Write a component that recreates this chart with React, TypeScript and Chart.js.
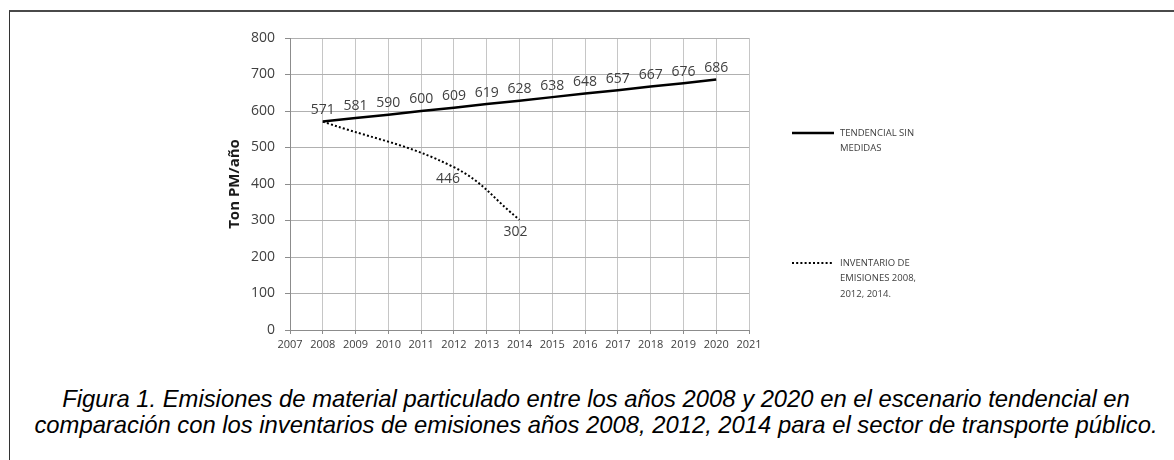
import React, { useEffect, useRef } from "react";
import { Chart, registerables } from "chart.js";

Chart.register(...registerables);

// ---- data ----
const years = [2008, 2009, 2010, 2011, 2012, 2013, 2014, 2015, 2016, 2017, 2018, 2019, 2020];
const tendencial = [571, 581, 590, 600, 609, 619, 628, 638, 648, 657, 667, 676, 686];
const inventarioYears = [2008, 2012, 2014];
const inventario = [571, 446, 302];
const seriesNames = [["TENDENCIAL SIN", "MEDIDAS"], ["INVENTARIO DE", "EMISIONES 2008,", "2012, 2014."]];
const xMin = 2007;
const xMax = 2021;
const yMin = 0;
const yMax = 800;
const yStep = 100;
const yTitle = "Ton PM/año";
const captionLines = [
  "Figura 1. Emisiones de material particulado entre los años 2008 y 2020 en el escenario tendencial en",
  "comparación con los inventarios de emisiones años 2008, 2012, 2014 para el sector de transporte público.",
];

const W = 1174;
const H = 370;
const PLOT_LEFT = 290;
const PLOT_RIGHT = 749;
const PLOT_TOP = 38;
const PLOT_BOTTOM = 330;
const Y_AXIS_W = 80;
const X_AXIS_H = 40;

const TEXT = "#404040";
const FONT = '"Open Sans", "DejaVu Sans", sans-serif';

const valueLabels = {
  id: "valueLabels",
  afterDatasetsDraw(chart: any) {
    const ctx = chart.ctx;
    ctx.save();
    ctx.font = `14px ${FONT}`;
    ctx.fillStyle = TEXT;
    ctx.textAlign = "center";
    ctx.textBaseline = "middle";
    // solid series: labels above each point
    const m0 = chart.getDatasetMeta(0);
    m0.data.forEach((pt: any, i: number) => {
      ctx.fillText(String(tendencial[i]), pt.x, pt.y - 11.5);
    });
    // dotted series: labels below (first point shared with solid series)
    const m1 = chart.getDatasetMeta(1);
    const offs = [null, [-6, 12], [-4, 12.5]];
    m1.data.forEach((pt: any, i: number) => {
      const o = offs[i];
      if (!o) return;
      ctx.fillText(String(inventario[i]), pt.x + o[0], pt.y + o[1]);
    });
    ctx.restore();
  },
};

const sideLegend = {
  id: "sideLegend",
  afterDraw(chart: any) {
    const ctx = chart.ctx;
    const rows = [133, 263];
    const sx = 792;
    const sLen = 42;
    const tx = 840;
    const lh = 15.5;
    ctx.save();
    chart.data.datasets.forEach((ds: any, di: number) => {
      const y = rows[di];
      ctx.beginPath();
      ctx.strokeStyle = ds.borderColor;
      ctx.lineWidth = ds.borderWidth;
      ctx.setLineDash(ds.borderDash || []);
      ctx.lineCap = "butt";
      ctx.moveTo(sx, y);
      ctx.lineTo(sx + sLen, y);
      ctx.stroke();
      ctx.setLineDash([]);
      ctx.font = `9.5px ${FONT}`;
      ctx.fillStyle = TEXT;
      ctx.textAlign = "left";
      ctx.textBaseline = "middle";
      seriesNames[di].forEach((t, k) => ctx.fillText(t, tx, y + k * lh));
    });
    ctx.restore();
  },
};

export default function App() {
  const ref = useRef<HTMLCanvasElement | null>(null);

  useEffect(() => {
    if (!ref.current) return;
    const chart = new Chart(ref.current, {
      type: "line",
      data: {
        datasets: [
          {
            label: seriesNames[0].join(" "),
            data: years.map((x, i) => ({ x, y: tendencial[i] })),
            borderColor: "#000000",
            borderWidth: 2.5,
            pointRadius: 0,
            tension: 0,
          },
          {
            label: seriesNames[1].join(" "),
            data: inventarioYears.map((x, i) => ({ x, y: inventario[i] })),
            borderColor: "#000000",
            borderWidth: 2,
            borderDash: [2, 2.2],
            pointRadius: 0,
            tension: 0.4,
          },
        ],
      },
      options: {
        responsive: false,
        maintainAspectRatio: false,
        animation: false,
        events: [],
        layout: {
          padding: {
            left: PLOT_LEFT - Y_AXIS_W,
            right: W - PLOT_RIGHT,
            top: PLOT_TOP,
            bottom: H - PLOT_BOTTOM - X_AXIS_H,
          },
        },
        plugins: {
          legend: { display: false },
          tooltip: { enabled: false },
          title: { display: false },
        },
        scales: {
          x: {
            type: "linear",
            min: xMin,
            max: xMax,
            afterFit: (s: any) => {
              s.height = X_AXIS_H;
            },
            ticks: {
              stepSize: 1,
              autoSkip: false,
              maxRotation: 0,
              padding: 4,
              color: TEXT,
              font: { family: FONT, size: 11 },
              callback: (v: any) => String(v),
            },
            grid: {
              color: "#c6c6c6",
              lineWidth: 1,
              drawTicks: true,
              tickLength: 4,
              tickColor: "#8c8c8c",
            },
            border: { color: "#8c8c8c", width: 1 },
          },
          y: {
            min: yMin,
            max: yMax,
            afterFit: (s: any) => {
              s.width = Y_AXIS_W;
            },
            ticks: {
              stepSize: yStep,
              padding: 10,
              color: TEXT,
              font: { family: FONT, size: 14 },
            },
            grid: {
              color: "#b0b0b0",
              lineWidth: 1,
              drawTicks: true,
              tickLength: 5,
              tickColor: "#8c8c8c",
            },
            border: { color: "#8c8c8c", width: 1 },
            title: {
              display: true,
              text: yTitle,
              color: "#1a1a1a",
              font: { family: FONT, size: 15, weight: "bold" },
              padding: { top: 16, bottom: 0 },
            },
          },
        },
      },
      plugins: [valueLabels, sideLegend],
    });
    return () => chart.destroy();
  }, []);

  return (
    <div style={{ position: "absolute", left: 0, top: 0, width: W, height: 460, background: "#fff", overflow: "hidden" }}>
      <div
        style={{
          position: "absolute",
          left: 9,
          top: 10,
          width: 1200,
          height: 500,
          borderTop: "2px solid #4a4a4a",
          borderLeft: "1px solid #333",
          boxSizing: "border-box",
        }}
      />
      <canvas ref={ref} width={W} height={H} style={{ position: "absolute", left: 0, top: 0, width: W, height: H }} />
      <div
        style={{
          position: "absolute",
          left: 18,
          width: 1156,
          top: 386,
          textAlign: "center",
          fontFamily: '"Liberation Sans", Arial, sans-serif',
          fontStyle: "italic",
          fontSize: 23.8,
          lineHeight: "26px",
          color: "#000",
          whiteSpace: "nowrap",
        }}
      >
        {captionLines.map((l, i) => (
          <div key={i}>{l}</div>
        ))}
      </div>
    </div>
  );
}
